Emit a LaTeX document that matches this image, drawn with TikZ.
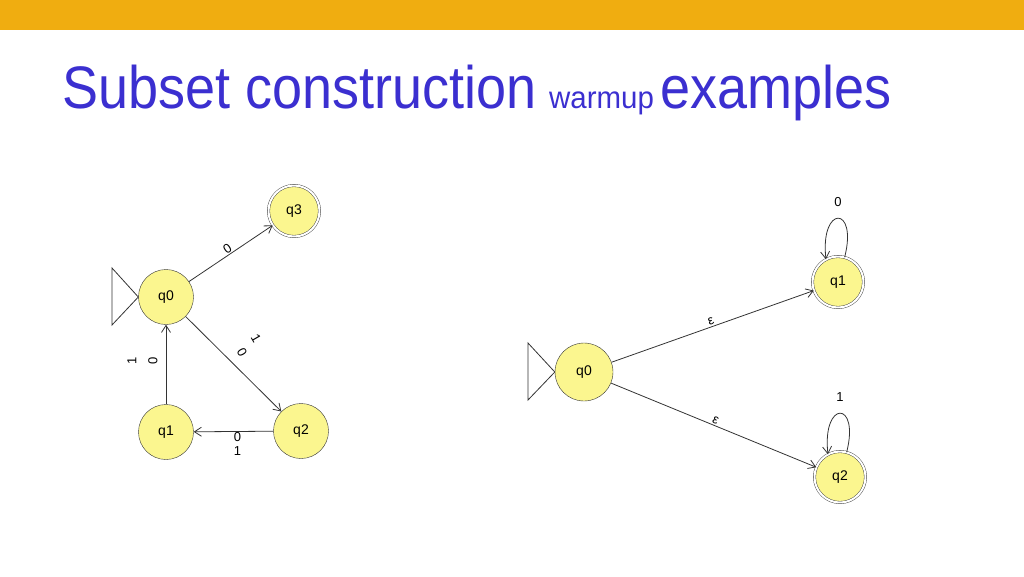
\documentclass[tikz,border=0pt]{standalone}
\usepackage{fontspec}
\setmainfont{Liberation Sans}
\usetikzlibrary{arrows.meta}
\definecolor{barc}{HTML}{F0AD10}
\definecolor{titc}{HTML}{3B2FD0}
\definecolor{stfill}{HTML}{FBF68F}
\begin{document}
\begin{tikzpicture}[x=1pt,y=-1pt,
  st/.style={circle,draw=black!80,fill=stfill,minimum size=55pt,inner sep=0pt,font=\fontsize{14}{16}\selectfont},
  acc/.style={st,double,double distance=2pt,minimum size=51pt},
  ed/.style={draw=black!80,-{Straight Barb[length=7pt,width=9pt]},line width=0.8pt},
  lb/.style={font=\fontsize{13}{14}\selectfont,inner sep=1pt,align=center}]
\useasboundingbox (0,0) rectangle (1024,576);
\fill[barc] (0,0) rectangle (1024,30);
\node[anchor=base west,text=titc,inner sep=0] (t1) at (62,108) {\scalebox{0.9}[1]{\fontsize{60}{60}\selectfont Subset construction}};
\node[anchor=base west,text=titc,inner sep=0] (t2) at (549,108) {\scalebox{0.95}[1]{\fontsize{31}{31}\selectfont warmup}};
\node[anchor=base west,text=titc,inner sep=0] (t3) at (660,108) {\scalebox{0.9}[1]{\fontsize{60}{60}\selectfont examples}};
% left automaton
\node[st] (a0) at (166,297) {q0};
\node[acc] (a3) at (294,211) {q3};
\node[st] (a1) at (166,432) {q1};
\node[st] (a2) at (301,431) {q2};
\draw[black!80,line width=0.8pt] (a0.west) -- (112,268) -- (112,325) -- cycle;
\draw[ed] (a0) -- node[lb,above,sloped] {0} (a3);
\draw[ed] (a0) -- (a2);
\node[lb,rotate=-60] (d1) at (256,338) {1};
\node[lb,rotate=-60] (d0) at (242,352) {0};
\draw[ed] (a2) -- node[lb,below,pos=0.45] {0\\1} (a1);
\draw[ed] (a1) -- (a0);
\node[lb,rotate=90] (v1) at (132,361) {1};
\node[lb,rotate=90] (v0) at (153,361) {0};
% right automaton
\node[st,minimum size=58pt] (b0) at (584,372) {q0};
\node[acc] (b1) at (838,282) {q1};
\node[acc] (b2) at (840,477) {q2};
\draw[black!80,line width=0.8pt] (b0.west) -- (528,343) -- (528,400) -- cycle;
\draw[ed] (b0) -- node[lb,above,sloped] {ε} (b1);
\draw[ed] (b0) -- node[lb,above,sloped] {ε} (b2);
\draw[ed] (b1.75) .. controls (858,205) and (820,205) .. (b1.118);
\node[lb] (l0) at (838,202) {0};
\draw[ed] (b2.75) .. controls (860,400) and (822,400) .. (b2.118);
\node[lb] (l1) at (840,397) {1};
\end{tikzpicture}
\end{document}
